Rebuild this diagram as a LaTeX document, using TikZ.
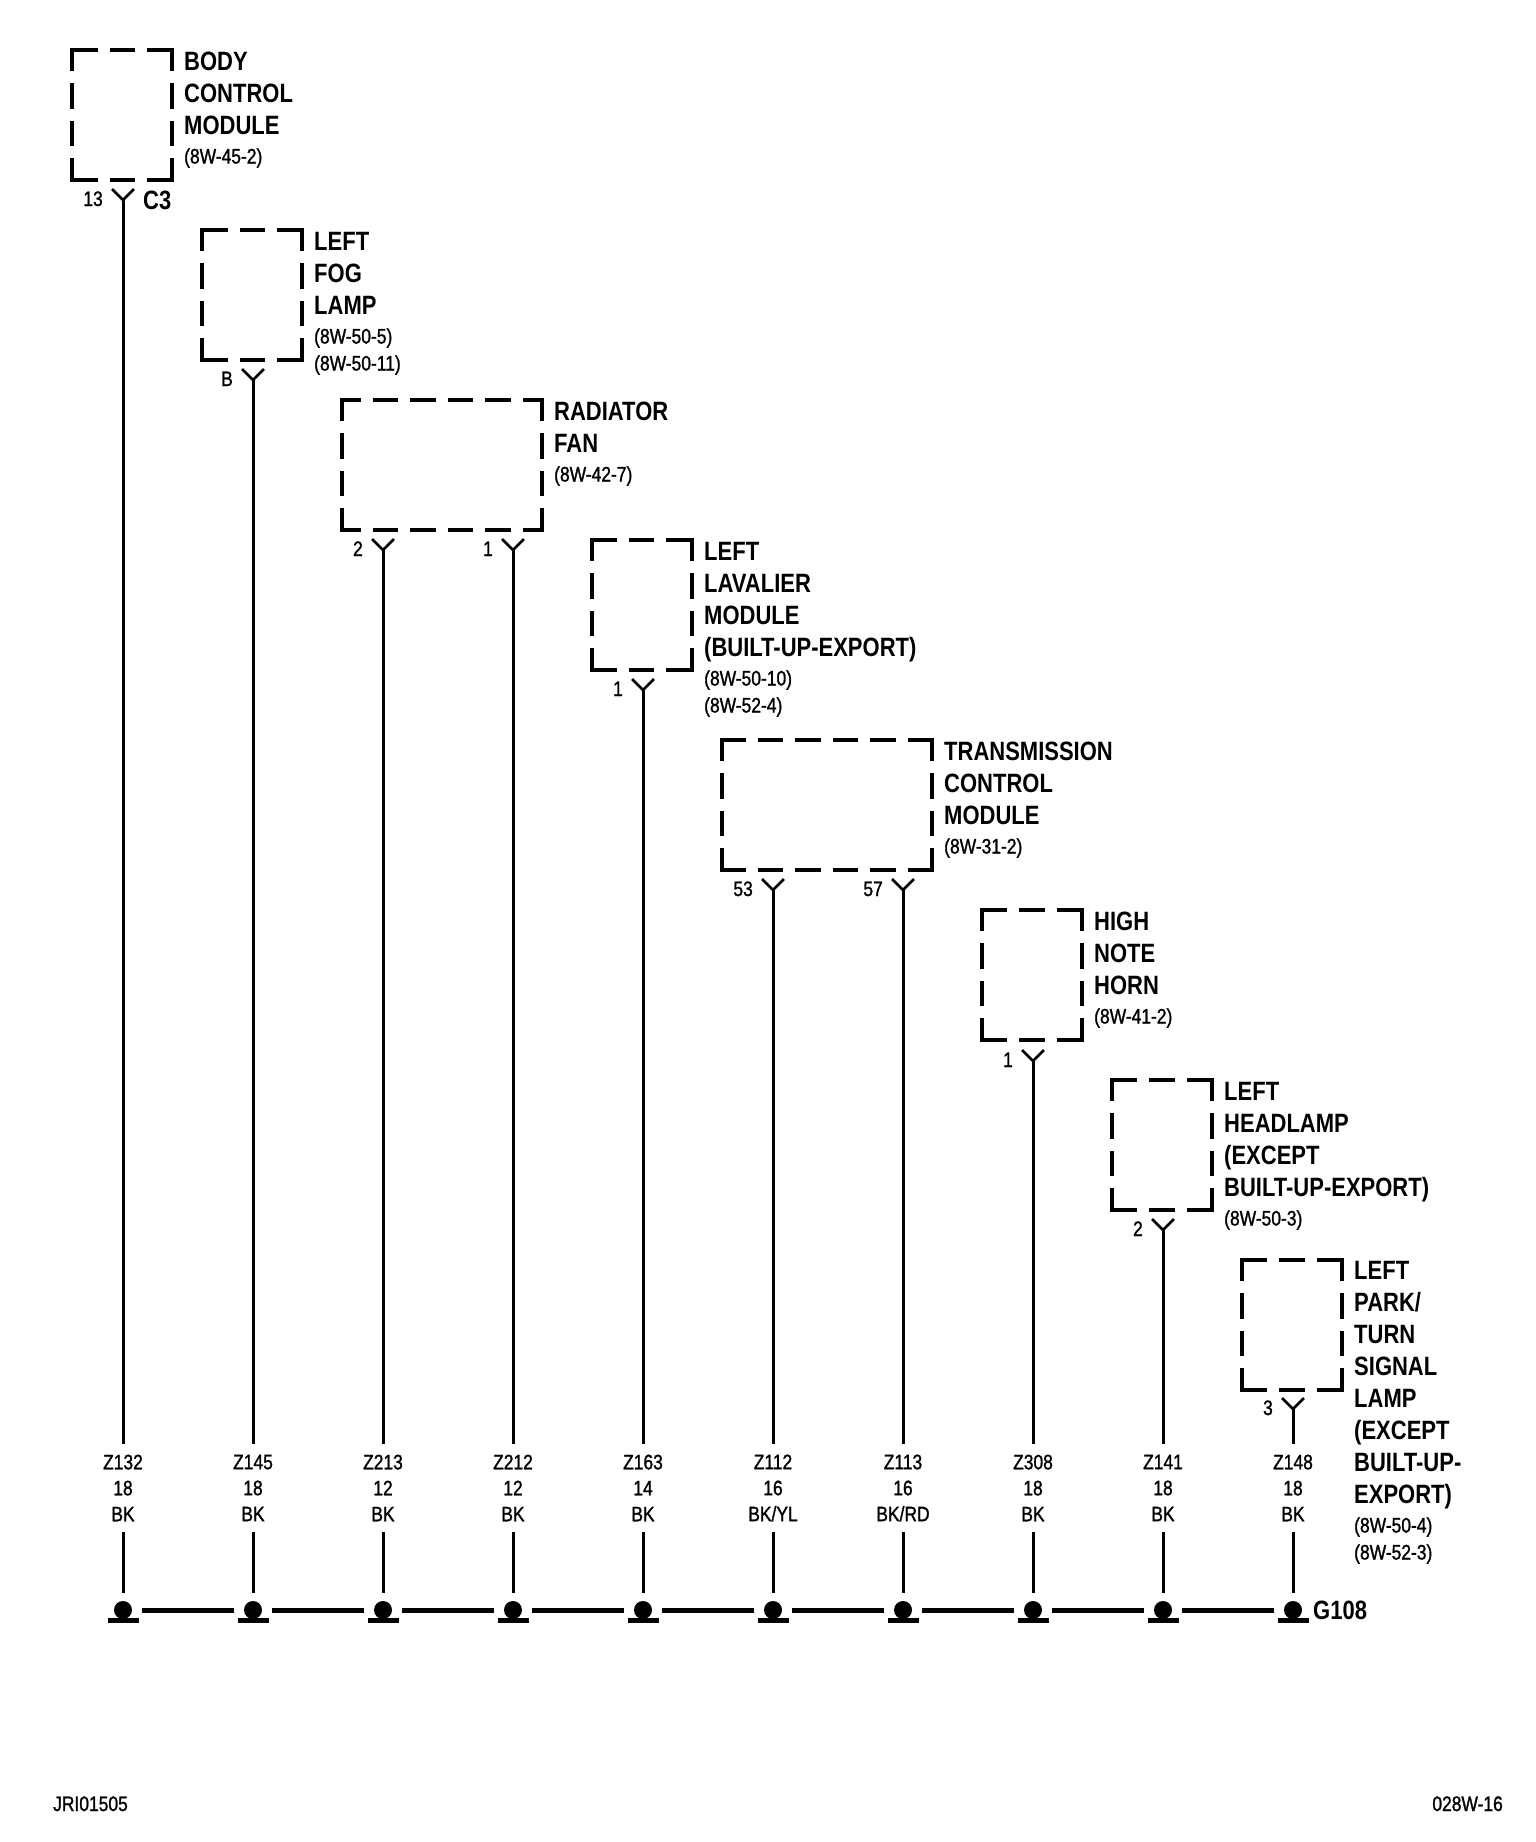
\documentclass[tikz,border=0pt]{standalone}
\usepackage{fontspec}
\setmainfont{Liberation Sans}[FakeStretch=0.83]
\newfontfamily\smallbase{Liberation Sans}[FakeStretch=0.83,FakeBold=1.2]
\newcommand{\bigf}{\bfseries\fontsize{26.5pt}{32pt}\selectfont}
\newcommand{\smf}{\smallbase\fontsize{21pt}{27pt}\selectfont}
\newcommand{\wlf}{\smallbase\fontsize{21pt}{26pt}\selectfont}
\newcommand{\bline}[1]{\hbox{\bigf #1}}
\newcommand{\sfirst}[1]{\baselineskip=29.5pt\hbox{\smf #1}\baselineskip=27pt}
\newcommand{\snext}[1]{\hbox{\smf #1}}
\newcommand{\lblock}[1]{\vtop{\lineskiplimit=-1000pt\baselineskip=32pt #1}}
\newcommand{\dbox}[6]{%
  \node[boxbody,minimum width=#4pt] (#1) at (#2,#3) {};
  \pgfmathsetmacro{\phx}{25.5-#5-1.8}
  \pgfmathsetmacro{\phy}{25.5-#6-1.8}
  \draw[boxside,dash phase=\phx pt] (#1.north west) -- (#1.north east);
  \draw[boxside,dash phase=\phx pt] (#1.south west) -- (#1.south east);
  \draw[boxside,dash phase=\phy pt] (#1.north west) -- (#1.south west);
  \draw[boxside,dash phase=\phy pt] (#1.north east) -- (#1.south east);
}
\tikzset{
  boxbody/.style={inner sep=0pt,outer sep=0pt,minimum height=130pt},
  boxside/.style={line width=3.7pt,dash pattern=on 25.5pt off 12pt,shorten <=-1.85pt,shorten >=-1.85pt},
  wire/.style={line width=3pt},
  forkline/.style={line width=2.7pt},
  bus/.style={line width=5pt,shorten <=10pt,shorten >=10pt},
  gndbar/.style={line width=4.5pt},
  gnd/.style={circle,fill=black,inner sep=0pt,outer sep=0pt,minimum size=18pt},
  wlabel/.style={inner sep=0pt,outer sep=0pt,minimum height=88pt,minimum width=60pt,align=center,font=\wlf},
  pinlabel/.style={inner sep=0pt,anchor=base east,font=\smf},
  desc/.style={inner sep=0pt,anchor=base west},
}
\begin{document}
\begin{tikzpicture}[x=1pt,y=-1pt]
\useasboundingbox[fill=white] (0,0) rectangle (1536,1842);
% module boxes
\dbox{b1}{122.3}{115}{100}{25.25}{21.5}
\dbox{b2}{252.3}{295}{100}{25.25}{21.5}
\dbox{b3}{442}{465}{200}{19}{21.5}
\dbox{b4}{641.7}{605}{100}{25.25}{21.5}
\dbox{b5}{827}{805}{210.5}{24}{21.5}
\dbox{b6}{1031.8}{975}{100}{25.25}{21.5}
\dbox{b7}{1162}{1145}{100}{25.25}{21.5}
\dbox{b8}{1292}{1325}{100}{25.25}{21.5}
% descriptions
\node[desc] (d1) at (184,70) {\lblock{\bline{BODY}\bline{CONTROL}\bline{MODULE}\sfirst{(8W-45-2)}}};
\node[desc] (d2) at (314,250) {\lblock{\bline{LEFT}\bline{FOG}\bline{LAMP}\sfirst{(8W-50-5)}\snext{(8W-50-11)}}};
\node[desc] (d3) at (554,420) {\lblock{\bline{RADIATOR}\bline{FAN}\sfirst{(8W-42-7)}}};
\node[desc] (d4) at (704,560) {\lblock{\bline{LEFT}\bline{LAVALIER}\bline{MODULE}\bline{(BUILT-UP-EXPORT)}\sfirst{(8W-50-10)}\snext{(8W-52-4)}}};
\node[desc] (d5) at (944,760) {\lblock{\bline{TRANSMISSION}\bline{CONTROL}\bline{MODULE}\sfirst{(8W-31-2)}}};
\node[desc] (d6) at (1094,930) {\lblock{\bline{HIGH}\bline{NOTE}\bline{HORN}\sfirst{(8W-41-2)}}};
\node[desc] (d7) at (1224,1100) {\lblock{\bline{LEFT}\bline{HEADLAMP}\bline{(EXCEPT}\bline{BUILT-UP-EXPORT)}\sfirst{(8W-50-3)}}};
\node[desc] (d8) at (1354,1279) {\lblock{\bline{LEFT}\bline{PARK/}\bline{TURN}\bline{SIGNAL}\bline{LAMP}\bline{(EXCEPT}\bline{BUILT-UP-}\bline{EXPORT)}\sfirst{(8W-50-4)}\snext{(8W-52-3)}}};
% wires
\foreach \i/\x/\ft/\pinname/\wcode/\wga/\wcol in {
  1/123/189/13/Z132/18/BK,
  2/253/369/B/Z145/18/BK,
  3/383/539/2/Z213/12/BK,
  4/513/539/1/Z212/12/BK,
  5/643/679/1/Z163/14/BK,
  6/773/879/53/Z112/16/{BK/YL},
  7/903/879/57/Z113/16/{BK/RD},
  8/1033/1050/1/Z308/18/BK,
  9/1163/1219/2/Z141/18/BK,
  10/1293/1398/3/Z148/18/BK}{
  \pgfmathsetmacro{\jy}{\ft+11}
  \pgfmathsetmacro{\ly}{\ft+17}
  \coordinate (p\i) at (\x,\jy);
  \coordinate (fl\i) at (\x-11,\ft);
  \coordinate (fr\i) at (\x+11,\ft);
  \node[pinlabel] (pl\i) at (\x-20,\ly) {\pinname};
  \node[wlabel] (w\i) at (\x,1488) {\wcode\\\wga\\\wcol};
  \node[gnd] (g\i) at (\x,1610) {};
  \draw[forkline] (fl\i) -- (p\i) -- (fr\i);
  \draw[wire] (p\i) -- (w\i.north);
  \draw[wire,shorten >=8pt] (w\i.south) -- (g\i.north);
  \draw[gndbar] ([xshift=-15.5pt,yshift=-1.6pt]g\i.south) -- ([xshift=15.5pt,yshift=-1.6pt]g\i.south);
}
% ground bus
\foreach \a/\b in {1/2,2/3,3/4,4/5,5/6,6/7,7/8,8/9,9/10}{
  \draw[bus] (g\a) -- (g\b);
}
% other labels
\node[desc,font=\bigf] (c3) at (143,209) {C3};
\node[desc,font=\bigf] (g108) at (1313,1619) {G108};
\node[desc,font=\smf] (jri) at (53,1811) {JRI01505};
\node[inner sep=0pt,anchor=base east,font=\smf] (pg) at (1503,1811) {028W-16};
\end{tikzpicture}
\end{document}
